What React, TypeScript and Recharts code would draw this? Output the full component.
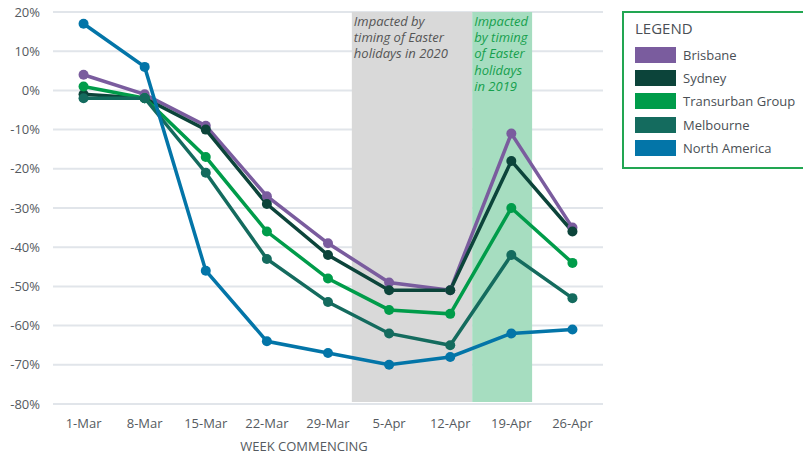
import React from 'react';
import {
  LineChart,
  Line,
  XAxis,
  YAxis,
  CartesianGrid,
  ReferenceArea,
} from 'recharts';

const weeks = ['1-Mar', '8-Mar', '15-Mar', '22-Mar', '29-Mar', '5-Apr', '12-Apr', '19-Apr', '26-Apr'];
const brisbane = [4, -1, -9, -27, -39, -49, -51, -11, -35];
const sydney = [-1, -2, -10, -29, -42, -51, -51, -18, -36];
const transurban = [1, -2, -17, -36, -48, -56, -57, -30, -44];
const melbourne = [-2, -2, -21, -43, -54, -62, -65, -42, -53];
const northAmerica = [17, 6, -46, -64, -67, -70, -68, -62, -61];
const yTicks = [20, 10, 0, -10, -20, -30, -40, -50, -60, -70, -80];

// shaded periods, in week-index units
const easter2020 = [4.39, 6.36];
const easter2019 = [6.36, 7.34];
const easter2020Text = ['Impacted by', 'timing of Easter', 'holidays in 2020'];
const easter2019Text = ['Impacted', 'by timing', 'of Easter', 'holidays', 'in 2019'];

const FONT = '"Open Sans", "Noto Sans", sans-serif';

const series = [
  { key: 'brisbane', name: 'Brisbane', color: '#7A5C9E' },
  { key: 'sydney', name: 'Sydney', color: '#0C443A' },
  { key: 'transurban', name: 'Transurban Group', color: '#009C4A' },
  { key: 'melbourne', name: 'Melbourne', color: '#146B5E' },
  { key: 'northAmerica', name: 'North America', color: '#0375A8' },
];

const data = weeks.map((w, i) => ({
  idx: i,
  week: w,
  brisbane: brisbane[i],
  sydney: sydney[i],
  transurban: transurban[i],
  melbourne: melbourne[i],
  northAmerica: northAmerica[i],
}));

const areaLabel = (lines: string[], color: string) => (props: any) => {
  const { viewBox } = props;
  return (
    <text x={viewBox.x + 2} y={viewBox.y + 14} fill={color} fontSize={13} fontStyle="italic" fontFamily={FONT}>
      {lines.map((l, i) => (
        <tspan key={i} x={viewBox.x + 2} dy={i === 0 ? 0 : 16.2}>{l}</tspan>
      ))}
    </text>
  );
};

const LegendBox = () => (
  <div
    style={{
      position: 'absolute',
      left: 622,
      top: 11,
      border: '2px solid #22A652',
      width: 200,
      height: 158,
      boxSizing: 'border-box',
      padding: '5px 0 0 11px',
      fontFamily: FONT,
      color: '#4A4F55',
      background: '#fff',
    }}
  >
    <div style={{ fontSize: 15, marginBottom: 5 }}>LEGEND</div>
    {series.map((s) => (
      <div key={s.key} style={{ display: 'flex', alignItems: 'center', height: 23.3 }}>
        <div style={{ width: 41, height: 16, background: s.color, marginRight: 7 }} />
        <span style={{ fontSize: 13 }}>{s.name}</span>
      </div>
    ))}
  </div>
);

const App: React.FC = () => {
  return (
    <div style={{ position: 'absolute', left: 0, top: 0, width: 803, height: 454, background: '#fff', overflow: 'hidden' }}>
      <LineChart width={803} height={454} data={data} margin={{ top: 12, right: 200, bottom: 0, left: 0 }}>
        <ReferenceArea x1={easter2020[0]} x2={easter2020[1]} y1={-79.5} y2={20} fill="#D9D9D9" fillOpacity={1} ifOverflow="visible" label={areaLabel(easter2020Text, '#555555')} />
        <ReferenceArea x1={easter2019[0]} x2={easter2019[1]} y1={-79.5} y2={20} fill="#A6DDC0" fillOpacity={1} ifOverflow="visible" label={areaLabel(easter2019Text, '#16A04E')} />
        <CartesianGrid vertical={false} stroke="#E1E5EA" strokeWidth={2} />
        <XAxis
          dataKey="idx"
          type="number"
          domain={[-0.5, 8.5]}
          ticks={weeks.map((_, i) => i)}
          interval={0}
          tickFormatter={(v) => weeks[v]}
          axisLine={false}
          tickLine={false}
          tickMargin={9}
          height={50}
          tick={{ fontSize: 13, fill: '#555A60', fontFamily: FONT }}
          label={{ value: 'WEEK COMMENCING', position: 'insideBottom', dx: -24, offset: 3, fontSize: 13, fill: '#555A60', fontFamily: FONT }}
        />
        <YAxis
          domain={[-80, 20]}
          ticks={yTicks}
          tickFormatter={(v) => `${v}%`}
          axisLine={false}
          tickLine={false}
          tickMargin={7}
          width={53}
          tick={{ fontSize: 13, fill: '#555A60', fontFamily: FONT }}
        />
        {series.map((s) => (
          <Line
            key={s.key}
            type="linear"
            dataKey={s.key}
            name={s.name}
            stroke={s.color}
            strokeWidth={3.5}
            dot={{ r: 5, fill: s.color, stroke: s.color, strokeWidth: 0 }}
            activeDot={false}
            isAnimationActive={false}
          />
        ))}
      </LineChart>
      <LegendBox />
    </div>
  );
};

export default App;
